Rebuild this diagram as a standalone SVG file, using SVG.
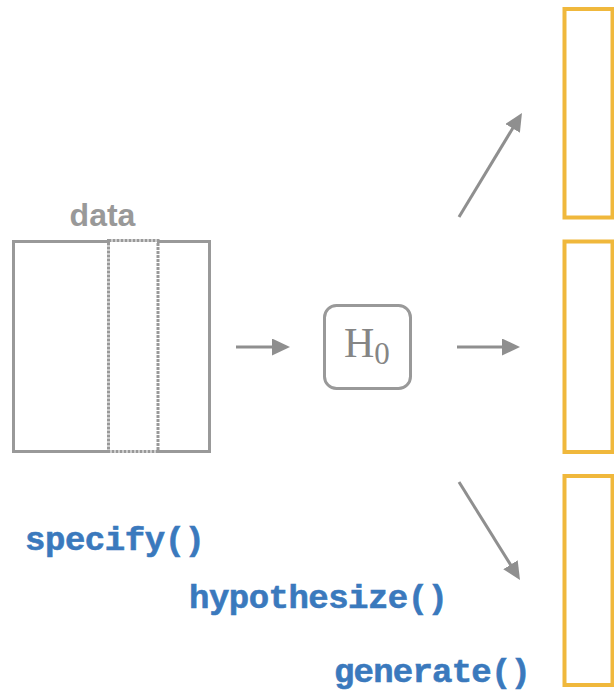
<svg xmlns="http://www.w3.org/2000/svg" width="614" height="693" viewBox="0 0 614 693">
  <style>
    .gbox { fill: none; stroke: #999999; stroke-width: 3; }
    .ybox { fill: none; stroke: #f0b83c; stroke-width: 4; }
    .arrow { fill: none; stroke: #8f8f8f; stroke-width: 3; marker-end: url(#head); }
    .code { font-family: "Liberation Mono", "DejaVu Sans Mono", monospace; font-weight: bold; font-size: 34px; fill: #3a79bd; stroke: #3a79bd; stroke-width: 0.6; }
    .label { font-family: "Liberation Sans", Arial, sans-serif; font-weight: bold; font-size: 32px; fill: #999999; }
    .hyp { font-family: "Liberation Serif", "Times New Roman", serif; fill: #858585; }
  </style>
  <defs>
    <marker id="head" markerUnits="userSpaceOnUse" markerWidth="18" markerHeight="17" refX="4" refY="8.5" orient="auto">
      <path d="M0,0 L18,8.5 L0,17 z" fill="#8f8f8f"/>
    </marker>
  </defs>
  <rect width="614" height="693" fill="#ffffff"/>

  <g id="data">
    <text class="label" x="102.5" y="226" text-anchor="middle">data</text>
    <rect class="gbox" x="13.5" y="241.5" width="196" height="210"/>
    <line x1="110" y1="241.5" x2="157" y2="241.5" stroke="#ffffff" stroke-width="3.5"/>
    <line x1="110" y1="451.5" x2="157" y2="451.5" stroke="#ffffff" stroke-width="3.5"/>
    <rect x="108.5" y="240.5" width="49.5" height="211" fill="none" stroke="#999999" stroke-width="3" stroke-dasharray="3 1"/>
  </g>

  <g id="h0">
    <rect class="gbox" x="324.5" y="305.5" width="86" height="83" rx="12" ry="12"/>
    <text class="hyp" x="344" y="357" font-size="42">H<tspan font-size="31" dy="7">0</tspan></text>
  </g>

  <g id="sample1">
    <rect class="ybox" x="564.5" y="9" width="48" height="208.5"/>
  </g>
  <g id="sample2">
    <rect class="ybox" x="564.5" y="241.5" width="48" height="210.5"/>
  </g>
  <g id="sample3">
    <rect class="ybox" x="564.5" y="476" width="48" height="209" stroke-width="3.5"/>
  </g>

  <g id="connectors">
    <line class="arrow" x1="236" y1="347" x2="276" y2="347"/>
    <line class="arrow" x1="457" y1="347" x2="506" y2="347"/>
    <line class="arrow" x1="459" y1="217" x2="514.7" y2="125"/>
    <line class="arrow" x1="459" y1="482" x2="512.6" y2="568.1"/>
  </g>

  <g id="labels">
    <text class="code" x="25" y="550" textLength="180" lengthAdjust="spacing">specify()</text>
    <text class="code" x="189" y="608" textLength="259" lengthAdjust="spacing">hypothesize()</text>
    <text class="code" x="334" y="682" textLength="197" lengthAdjust="spacing">generate()</text>
  </g>
</svg>
